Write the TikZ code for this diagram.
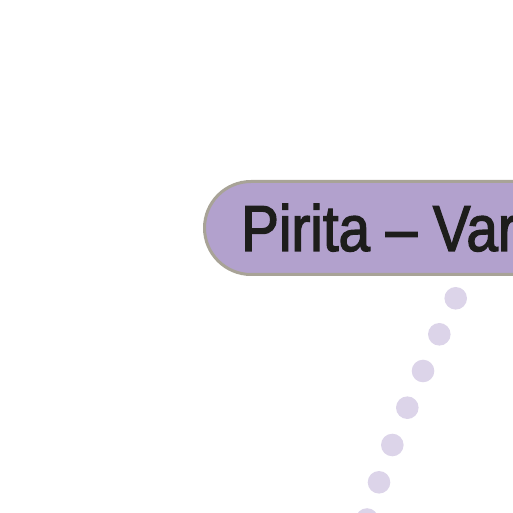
\documentclass[tikz,border=0pt]{standalone}
\usepackage{fontspec}
\setmainfont{Liberation Sans}[FakeStretch=0.87, FakeBold=2]
\definecolor{nodefill}{HTML}{B2A1CD}
\definecolor{nodeborder}{HTML}{A8A397}
\definecolor{dotcol}{HTML}{DCD4E9}
\definecolor{txt}{HTML}{1D1D1B}
\tikzset{
  titlebox/.style={draw=nodeborder, line width=3pt, fill=nodefill, rounded corners=46.5pt},
  titletext/.style={anchor=base west, inner sep=0pt, text=txt, font=\fontsize{65}{67}\selectfont},
  dotmark/.style={fill=dotcol, draw=none}
}
\begin{document}
\begin{tikzpicture}[x=1pt,y=1pt]
\useasboundingbox (0,0) rectangle (513,513);
\clip (0,0) rectangle (513,513);
\draw[titlebox] (204.5,238.5) rectangle (700,331.5);
\node[titletext] (title) at (241,262) {Pirita – Variedades};
\foreach \px/\py in {455.7/214.7, 439.3/178.7, 423/142, 407.3/105.3, 392.3/68, 379/30.7, 367/-6.5}
  \fill[dotmark] (\px,\py) circle (11.3);
\end{tikzpicture}
\end{document}
